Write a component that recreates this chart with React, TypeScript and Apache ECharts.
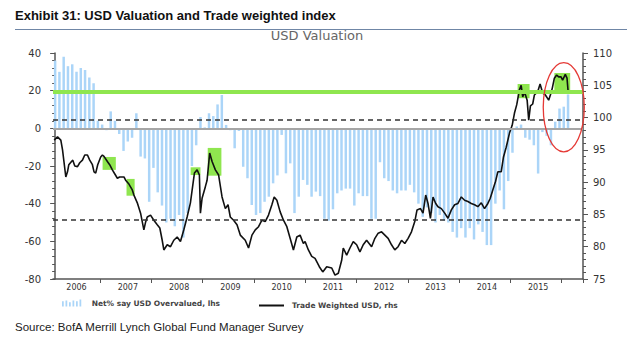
import React, { useEffect, useRef } from "react";
import * as echarts from "echarts";

// Monthly categories Feb 2006 .. May 2016
const startYear = 2006;
const startMonth = 2;
const monthCount = 124;
const months: string[] = [];
for (let i = 0; i < monthCount; i++) {
  const m = startMonth - 1 + i;
  const y = startYear + Math.floor(m / 12);
  const mm = (m % 12) + 1;
  months.push(`${y}-${mm < 10 ? "0" + mm : mm}`);
}

// Net % say USD overvalued (lhs), monthly from Feb 2006
const netOvervalued: number[] = [
  36, 30, 38, 33, 34, 30, 32, 31, 27, 24,
  4, 2, -1, 9, 4, -3, -12, -7, -5, 8, -15,
  -16, -39, -21, -34, -41, -50, -48, -52, -46, -58, -45, -20, -9,
  6, 0.5, 8, 6.5, 12.7, 17.7, 1.8,
  -1, -10.6, -1.4, -20.4, -26.5, -40.7, -46, -45, -39, -36.3, -29.2, -25, -3.5, -23.9, -18.6, -45, -36.3, -27.4, -30, -36.3, -33.6,
  -36, -48, -49, -43, -34.5, -33, -32, -32, -41, -34.5, -36, -36, -48, -48, -18, -26.5, -28, -33, -34.5, -33, -33,
  -30, -34, -40, -47, -42, -45, -50, -46, -49, -50, -55, -58, -53, -58, -53, -59, -51, -55, -62, -62, -40,
  -33, -43, -28, -13, 1, 2, -5, -6, -9, -24, -2, -4, -9, 3.5, 10.5, 11.5, 18,
];

// Trade weighted USD (rhs): position in months since Feb 2006, and index level
const twMonthPos: number[] = [
  -0.23, 0.56, 1.33, 1.73, 2.5, 2.89, 3.2, 3.83, 4.13, 4.6,
  5.23, 5.76, 6.39, 6.93, 7.56, 8.09, 8.72, 9.1, 9.49, 9.96,
  10.66, 11.06, 11.43, 12.22, 12.76, 13.39, 13.93, 14.56, 15.09, 15.72,
  16.1, 16.49, 17.26, 18.05, 18.43, 19.22, 19.99, 20.76, 21.16, 21.55,
  22.32, 23.09, 23.89, 24.49, 25.05, 25.43, 26.22, 26.99, 27.76, 28.55,
  29.32, 30.09, 30.88, 31.65, 32.28, 32.59, 33.22, 33.75, 33.99, 34.38,
  35.15, 35.55, 36.16, 36.72, 37.49, 38.25, 39.05, 39.82, 40.45, 40.98,
  41.75, 42.55, 43.32, 44.48, 45.25, 46.05, 46.82, 47.59, 48.38, 49.15,
  49.92, 50.71, 51.25, 51.88, 52.65, 53.42, 54.21, 54.98, 55.75, 56.54,
  57.31, 58.08, 58.48, 59.25, 60.04, 60.81, 61.81, 62.61, 63.54, 64.71,
  65.48, 66.25, 67.04, 67.41, 68.21, 68.98, 69.75, 70.54, 71.31, 72.08,
  72.87, 74.04, 74.81, 75.58, 76.37, 77.14, 77.91, 78.7, 79.47, 80.24,
  81.04, 81.81, 82.58, 83.37, 84.14, 84.67, 85.47, 86.07, 86.7, 87.24,
  87.8, 88.41, 89.04, 89.57, 90.37, 91.14, 91.91, 92.7, 93.47, 94.24,
  95.03, 95.8, 96.57, 97.36, 98.13, 98.9, 99.7, 100.46, 101.24, 101.8,
  102.4, 103.03, 103.57, 104.36, 104.9, 105.53, 106.3, 106.93, 107.47, 108.0,
  108.63, 109.03, 109.4, 109.8, 110.43, 110.8, 111.2, 111.73, 112.13, 112.9,
  113.46, 114.07, 114.7, 115.47, 116.02, 116.33, 116.8, 117.33, 117.8, 118.36,
  118.73, 119.36, 119.76, 120.06,
];
const twUsd: number[] = [
  96.5, 97.0, 96.5, 95.0, 90.8, 91.6, 92.7, 93.2, 93.4, 92.5,
  92.4, 93.0, 93.4, 94.2, 94.2, 93.4, 92.7, 91.6, 91.4, 92.7,
  93.9, 94.2, 94.0, 93.2, 92.7, 91.9, 91.3, 90.6, 90.8, 90.8,
  90.8, 90.3, 89.7, 88.8, 88.0, 86.8, 85.2, 82.6, 83.8, 84.6,
  84.9, 84.1, 83.4, 82.9, 81.0, 79.5, 80.3, 80.0, 81.0, 81.5,
  80.8, 82.6, 84.6, 86.8, 89.9, 91.4, 91.9, 91.1, 85.2, 87.5,
  89.3, 90.3, 94.5, 93.2, 91.9, 91.1, 87.7, 85.9, 86.5, 84.6,
  84.1, 83.4, 81.8, 81.0, 79.8, 81.8, 82.6, 83.1, 84.1, 83.9,
  84.9, 86.5, 87.7, 87.2, 85.4, 84.1, 83.1, 81.3, 79.5, 81.5,
  81.8, 80.5, 80.8, 79.5, 78.5, 78.2, 76.9, 76.1, 76.9, 76.7,
  75.6, 75.9, 77.9, 79.8, 78.7, 79.8, 80.8, 80.3, 79.2, 80.3,
  81.0, 80.0, 81.3, 82.1, 82.3, 81.8, 81.3, 80.3, 79.5, 80.0,
  81.0, 80.5, 81.3, 82.3, 83.9, 85.7, 85.9, 85.2, 88.0, 86.7,
  84.4, 87.7, 86.7, 86.2, 85.9, 85.2, 84.4, 85.7, 86.5, 86.7,
  87.7, 87.2, 87.0, 86.7, 86.5, 86.2, 86.8, 85.9, 86.7, 87.5,
  88.8, 90.1, 91.6, 91.6, 93.9, 95.4, 97.6, 98.8, 100.7, 102.0,
  104.3, 105.0, 103.2, 104.0, 102.7, 99.6, 101.8, 102.1, 103.5, 104.0,
  105.2, 103.8, 103.5, 102.7, 103.8, 104.6, 106.1, 106.6, 106.3, 106.3,
  105.8, 106.7, 106.1, 103.7,
];

// Reference levels (lhs)
const greenLevel = 19.3;
const dashedLevels: number[] = [4.3, -48.7];

// Green highlight boxes: [monthFrom, usdHigh, monthTo, usdLow]
const highlightBoxes: number[][] = [
  [11.1, 93.9, 14.2, 91.9],
  [16.7, 90.5, 18.6, 87.9],
  [31.7, 92.3, 34.0, 91.1],
  [35.7, 95.3, 38.9, 91.0],
  [108.2, 105.2, 111.0, 103.0],
  [116.8, 106.9, 120.5, 103.8],
];

// Red ellipse annotation (center month, center usd, half-width months, half-height usd)
const ellipseNote = { month: 119.0, usd: 101.6, halfMonths: 4.8, halfUsd: 6.9 };

const seriesBarName = "Net% say USD Overvalued, lhs";
const seriesLineName = "Trade Weighted USD, rhs";

export default function App() {
  const ref = useRef<HTMLDivElement>(null);
  useEffect(() => {
    if (!ref.current) return;
    const chart = echarts.init(ref.current, undefined, { renderer: "svg" });
    const axisColor = "#555";
    const labelFont = "DejaVu Sans";
    const legendText = { fontSize: 7.5, fontWeight: "bold", fontFamily: labelFont, color: "#444", padding: [0, 0, 0, 3] };
    const option: any = {
      animation: false,
      backgroundColor: "#ffffff",
      grid: { left: 53, right: 49, top: 53, bottom: 68, containLabel: false },
      legend: [
        {
          left: 57,
          top: 294,
          itemWidth: 24,
          itemHeight: 7,
          textStyle: legendText,
          data: [
            { name: seriesBarName, icon: "path://M0,2h2v6h-2z M4,1h2v7h-2z M8,3h2v5h-2z M12,1h2v7h-2z M16,2h2v6h-2z M20,0h2v8h-2z" },
          ],
        },
        {
          left: 254,
          top: 296.5,
          itemWidth: 25,
          itemHeight: 2,
          icon: "rect",
          textStyle: legendText,
          data: [{ name: seriesLineName }],
        },
      ],
      xAxis: [
        {
          type: "category",
          data: months,
          boundaryGap: true,
          position: "bottom",
          axisLine: { show: true, onZero: false, lineStyle: { color: axisColor, width: 1.5 } },
          axisTick: {
            show: true,
            length: 4,
            lineStyle: { color: axisColor },
            interval: (_i: number, v: string) => v.endsWith("-01"),
          },
          axisLabel: {
            interval: (_i: number, v: string) => v.endsWith("-07"),
            formatter: (v: string) => v.slice(0, 4),
            fontSize: 8,
            fontFamily: labelFont,
            color: "#333",
            margin: 4,
          },
          splitLine: { show: false },
        },
        {
          type: "value",
          min: -0.5,
          max: monthCount - 0.5,
          show: false,
        },
      ],
      yAxis: [
        {
          type: "value",
          min: -80,
          max: 40,
          interval: 20,
          position: "left",
          axisLine: { show: true, lineStyle: { color: axisColor, width: 1.5 } },
          axisTick: { show: true, length: 5, lineStyle: { color: axisColor } },
          minorTick: { show: true, splitNumber: 5, length: 3, lineStyle: { color: axisColor } },
          axisLabel: { fontSize: 10, fontFamily: labelFont, color: "#333", margin: 12 },
          splitLine: { show: false },
        },
        {
          type: "value",
          min: 75,
          max: 110,
          interval: 5,
          position: "right",
          axisLine: { show: true, lineStyle: { color: axisColor, width: 1.5 } },
          axisTick: { show: true, length: 5, lineStyle: { color: axisColor } },
          minorTick: { show: true, splitNumber: 5, length: 3, lineStyle: { color: axisColor } },
          axisLabel: { fontSize: 10, fontFamily: labelFont, color: "#333", margin: 10 },
          splitLine: { show: false },
        },
      ],
      series: [
        {
          name: seriesBarName,
          type: "bar",
          xAxisIndex: 0,
          yAxisIndex: 0,
          data: netOvervalued,
          barWidth: "58%",
          itemStyle: { color: "#abd5f8" },
          z: 2,
          markLine: {
            silent: true,
            symbol: ["none", "none"],
            label: { show: false },
            data: [
              { yAxis: 0, lineStyle: { color: "#a6a6a6", width: 2, type: "solid" } },
              { yAxis: greenLevel, lineStyle: { color: "#8fe64f", width: 4, type: "solid" } },
              ...dashedLevels.map((v) => ({ yAxis: v, lineStyle: { color: "#333", width: 1.5, type: [5, 4] } })),
            ],
          },
        },
        {
          name: seriesLineName,
          type: "line",
          xAxisIndex: 1,
          yAxisIndex: 1,
          data: twMonthPos.map((m, i) => [m, twUsd[i]]),
          symbol: "none",
          showSymbol: false,
          lineStyle: { color: "#111", width: 1.6 },
          itemStyle: { color: "#111" },
          z: 4,
          markArea: {
            silent: true,
            itemStyle: { color: "#8fe64f", opacity: 1 },
            data: highlightBoxes.map((b) => [{ coord: [b[0], b[1]] }, { coord: [b[2], b[3]] }]),
          },
        },
      ],
    };
    chart.setOption(option);

    const c = chart.convertToPixel({ xAxisIndex: 1, yAxisIndex: 1 } as any, [ellipseNote.month, ellipseNote.usd]) as number[];
    const e = chart.convertToPixel({ xAxisIndex: 1, yAxisIndex: 1 } as any, [
      ellipseNote.month + ellipseNote.halfMonths,
      ellipseNote.usd + ellipseNote.halfUsd,
    ]) as number[];

    chart.setOption({
      graphic: [
        {
          type: "text",
          left: 15,
          top: 9,
          style: {
            text: "Exhibit 31: USD Valuation and Trade weighted index",
            fontSize: 13,
            fontWeight: "bold",
            fontFamily: "Liberation Sans",
            fill: "#111",
          },
        },
        {
          type: "line",
          shape: { x1: 15, y1: 29.5, x2: 627, y2: 29.5 },
          style: { stroke: "#6f86a6", lineWidth: 1 },
        },
        {
          type: "text",
          x: 317,
          y: 35,
          style: {
            text: "USD Valuation",
            fontSize: 13,
            fontFamily: labelFont,
            fill: "#666",
            align: "center",
            verticalAlign: "middle",
          },
        },
        {
          type: "ellipse",
          shape: { cx: c[0], cy: c[1], rx: Math.abs(e[0] - c[0]), ry: Math.abs(c[1] - e[1]) },
          style: { fill: "none", stroke: "#e53935", lineWidth: 1.3 },
          z: 10,
        },
        {
          type: "text",
          x: 15,
          y: 327,
          style: {
            text: "Source: BofA Merrill Lynch Global Fund Manager Survey",
            fontSize: 11.5,
            fontFamily: "Liberation Sans Narrow, Liberation Sans",
            fill: "#222",
            verticalAlign: "middle",
          },
        },
      ],
    });

    return () => chart.dispose();
  }, []);
  return <div ref={ref} style={{ position: "absolute", left: 0, top: 0, width: 632, height: 347 }} />;
}
